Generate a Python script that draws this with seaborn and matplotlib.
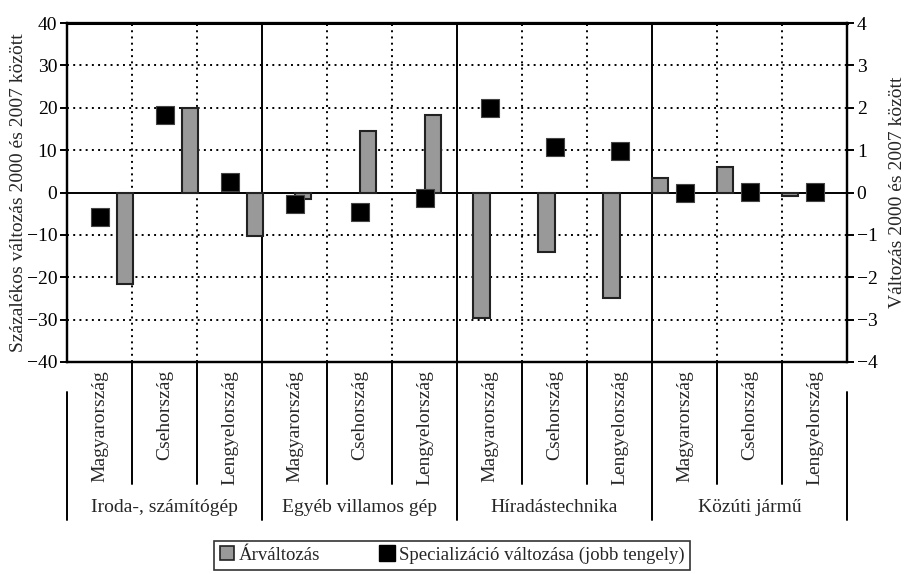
import numpy as np
import pandas as pd
import matplotlib.pyplot as plt
import matplotlib.transforms as mtransforms
from matplotlib.lines import Line2D
import seaborn as sns

# Data
sectors = ['Iroda-, számítógép', 'Egyéb villamos gép', 'Híradástechnika', 'Közúti jármű']
countries = ['Magyarország', 'Csehország', 'Lengyelország']
price_change = [-21.6, 20.0, -10.2,
                -1.6, 14.5, 18.4,
                -29.7, -14.0, -25.0,
                3.4, 6.0, -0.8]
spec_change = [-0.57, 1.83, 0.25,
               -0.28, -0.45, -0.13,
               2.00, 1.08, 0.98,
               -0.02, 0.02, 0.02]

sns.set_style('ticks')
plt.rcParams['font.family'] = ['Liberation Serif', 'DejaVu Serif']
plt.rcParams['axes.unicode_minus'] = True

n_c = len(countries)
n_slots = len(sectors) * n_c

df = pd.DataFrame({
    'sector': np.repeat(sectors, n_c),
    'country': countries * len(sectors),
    'price': price_change,
    'spec': spec_change,
})
df['slot'] = np.arange(n_slots)
df['group'] = df['slot'] // n_c
# bar position inside its slot shifts from group to group in the original
bar_offset = {0: 0.77, 1: 0.51, 2: 0.25, 3: 0.0}
df['bar_x'] = df['slot'] + df['group'].map(bar_offset)
df['mark_x'] = df['slot'] + 0.5

W, H = 908, 574
fig = plt.figure(figsize=(W / 100, H / 100), dpi=100)
left, right, top, bottom = 67, 847, 23, 362
ax = fig.add_axes([left / W, 1 - bottom / H, (right - left) / W, (bottom - top) / H])
ax2 = ax.twinx()

dot = (0, (1, 2.2))
# grid
for yv in [-30, -20, -10, 10, 20, 30]:
    ax.axhline(yv, color='black', lw=1.4, ls=dot, zorder=1)
for s in range(1, n_slots):
    if s % n_c == 0:
        ax.axvline(s, color='black', lw=1.4, zorder=1)
    else:
        ax.axvline(s, color='black', lw=1.4, ls=dot, zorder=1)
ax.axhline(0, color='black', lw=1.4, zorder=2)

ax.bar(df['bar_x'], df['price'], width=0.25, align='edge',
       color='#999999', edgecolor='#222222', linewidth=1.5, zorder=3)

sns.scatterplot(data=df, x='mark_x', y='spec', ax=ax2, marker='s', s=160,
                color='black', edgecolor='#444444', linewidth=0.8, zorder=5,
                legend=False)

ax.set_xlim(0, n_slots)
ax.set_ylim(-40, 40)
ax2.set_ylim(-4, 4)
ax.set_yticks(range(-40, 41, 10))
ax2.set_yticks(range(-4, 5))
ax.set_xticks([])
ax2.set_xticks([])
ax.set_xlabel('')
ax2.set_xlabel('')

for a in (ax, ax2):
    for sp in a.spines.values():
        sp.set_linewidth(1.6)
        sp.set_color('black')
        sp.set_visible(True)
    a.tick_params(axis='y', labelsize=14, length=5, width=1.4, colors='black', pad=2)
ax.spines['top'].set_linewidth(2.2)

ax.set_ylabel('Százalékos változás 2000 és 2007 között', fontsize=14, labelpad=0)
ax2.set_ylabel('Változás 2000 és 2007 között', fontsize=14, labelpad=8)

# category table under the plot
trans = mtransforms.blended_transform_factory(ax.transData, ax.transAxes)
ph = bottom - top
def yfrac(px):
    return -(px - bottom) / ph

for s in range(0, n_slots + 1):
    if s == 0 or s == n_slots:
        ax.plot([s, s], [yfrac(392), yfrac(520)], color='black', lw=1.4,
                transform=trans, clip_on=False)
    elif s % n_c == 0:
        ax.plot([s, s], [0, yfrac(520)], color='black', lw=1.4,
                transform=trans, clip_on=False)
    else:
        ax.plot([s, s], [0, yfrac(484)], color='black', lw=1.4,
                transform=trans, clip_on=False)

for _, r in df.iterrows():
    ax.text(r['mark_x'], yfrac(370), r['country'], rotation=90, ha='center',
            va='top', fontsize=14, transform=trans)
for g, name in enumerate(sectors):
    ax.text(g * n_c + n_c / 2, yfrac(508), name, ha='center', va='center',
            fontsize=14, transform=trans)

handles = [
    Line2D([], [], ls='none', marker='s', markersize=10, markerfacecolor='#999999',
           markeredgecolor='#222222', markeredgewidth=1.2),
    Line2D([], [], ls='none', marker='s', markersize=11, markerfacecolor='black',
           markeredgecolor='black'),
]
leg = fig.legend(handles, ['Árváltozás', 'Specializáció változása (jobb tengely)'],
                 loc='upper center', bbox_to_anchor=(452 / W, 1 - 541 / H), ncol=2,
                 frameon=True, fancybox=False, edgecolor='black', fontsize=13.5,
                 handlelength=0.8, handletextpad=0.2, columnspacing=3.2,
                 borderpad=0.3, borderaxespad=0)
leg.get_frame().set_linewidth(1.2)

fig.savefig('out.png', dpi=100)
